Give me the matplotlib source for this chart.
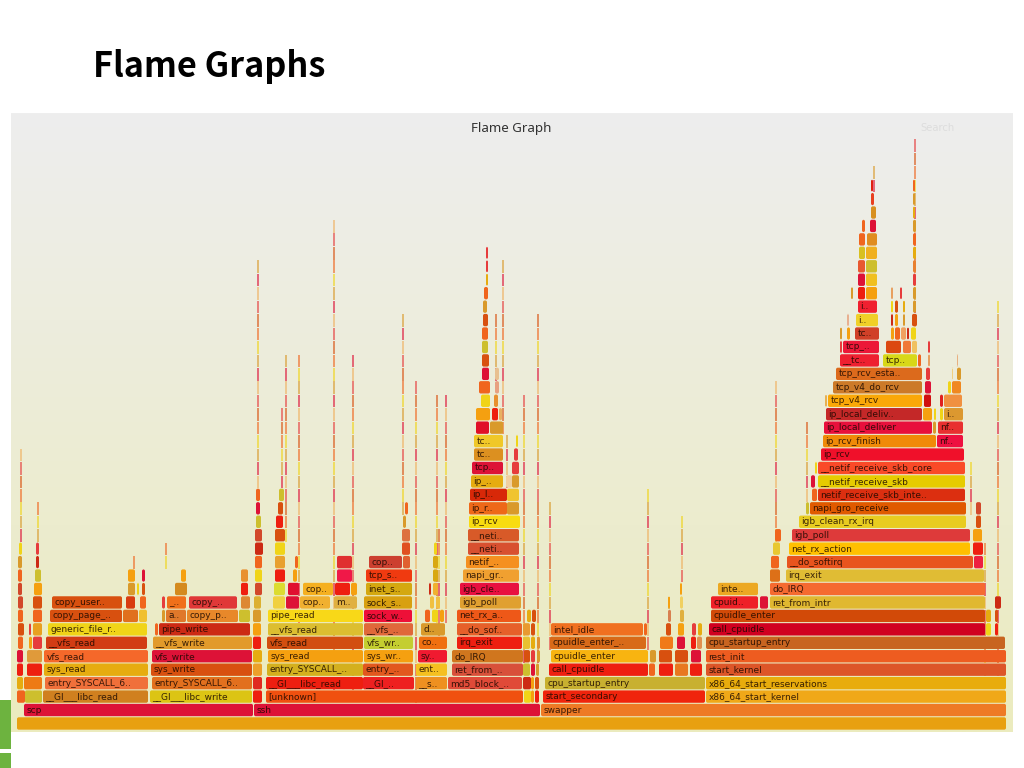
import matplotlib
matplotlib.use("Agg")
import matplotlib.pyplot as plt
from matplotlib.patches import FancyBboxPatch, Rectangle
from matplotlib.colors import LinearSegmentedColormap
import numpy as np

CRIMSON = "#DD1237"
RED     = "#EE1F10"
DRED    = "#CC2A14"
ORANGE  = "#F0651E"
DORG    = "#D8500F"
AMBER   = "#F5A010"
GOLD    = "#E6AC10"
TAN     = "#D99A2B"
YELLOW  = "#F0D418"
OLIVE   = "#CDBF2E"
BRICK   = "#D2482A"
ROSE    = "#E63C3C"

# frames: (stack depth, first sample, last sample, colour, label)
base_frames = [
    (0, 17, 1006, "#E8A010", ""),
    (1, 24, 253, CRIMSON, "scp"),
    (1, 254, 540, CRIMSON, "ssh"),
    (1, 541, 1006, "#EE7A25", "swapper"),
]

scp_frames = [
    (2, 17, 25, ORANGE, ""), (2, 25, 42, OLIVE, ""),
    (2, 43, 148, "#D0801F", "__GI___libc_read"),
    (3, 17, 23, GOLD, ""), (3, 24, 42, "#EE7A15", ""),
    (3, 45, 148, "#F0703A", "entry_SYSCALL_6.."),
    (4, 17, 23, RED, ""), (4, 27, 42, RED, ""),
    (4, 44, 148, GOLD, "sys_read"),
    (5, 17, 23, CRIMSON, ""), (5, 27, 42, "#E09A3A", ""),
    (5, 44, 148, "#F5682A", "vfs_read"),
    (6, 18, 23, ORANGE, ""), (6, 29, 32, AMBER, ""), (6, 33, 42, ROSE, ""),
    (6, 46, 147, "#D23C14", "__vfs_read"),
    (7, 18, 24, DORG, ""), (7, 29, 31, ROSE, ""), (7, 33, 42, "#E8A020", ""),
    (7, 48, 147, YELLOW, "generic_file_r.."),
    (8, 18, 23, ORANGE, ""), (8, 33, 42, ORANGE, ""),
    (8, 50, 122, DORG, "copy_page_.."), (8, 123, 138, "#E0701E", ""), (8, 139, 147, "#F0C030", ""),
    (9, 18, 23, BRICK, ""), (9, 33, 42, DORG, ""),
    (9, 52, 122, DORG, "copy_user.."), (9, 126, 135, "#D83C10", ""),
    (9, 140, 146, ORANGE, ""),
    (10, 18, 22, BRICK, ""), (10, 34, 42, AMBER, ""),
    (10, 128, 135, TAN, ""), (10, 137, 139, YELLOW, ""), (10, 142, 145, DORG, ""),
    (11, 18, 22, ORANGE, ""), (11, 35, 41, OLIVE, ""),
    (11, 128, 135, AMBER, ""), (11, 142, 145, CRIMSON, ""),
    (12, 18, 22, TAN, ""), (12, 36, 39, DRED, ""),
    (13, 19, 22, YELLOW, ""), (13, 36, 39, ROSE, ""),
]

write_frames = [
    (2, 150, 252, "#DCC414", "__GI___libc_write"),
    (3, 152, 252, "#E2701E", "entry_SYSCALL_6.."),
    (4, 151, 252, DORG, "sys_write"),
    (5, 152, 252, CRIMSON, "vfs_write"),
    (6, 153, 252, "#E29A2A", "__vfs_write"),
    (7, 155, 158, ORANGE, ""), (7, 159, 250, DRED, "pipe_write"),
    (8, 162, 165, TAN, ""), (8, 166, 186, "#E0782A", "a.."),
    (8, 187, 238, "#E8882A", "copy_p.."), (8, 239, 250, OLIVE, ""),
    (9, 162, 165, ROSE, ""), (9, 167, 186, "#F0701A", "_.."),
    (9, 189, 237, "#E03838", "copy_.."), (9, 241, 250, "#DD8833", ""),
    (10, 175, 187, "#D48A1E", ""), (10, 241, 248, RED, ""),
    (11, 181, 186, AMBER, ""), (11, 241, 248, "#E89030", ""),
]

ssh_frames = [
    (2, 253, 262, RED, ""), (2, 266, 523, "#F0500F", "[unknown]"),
    (2, 524, 531, YELLOW, ""), (2, 531, 534, AMBER, ""), (2, 535, 539, RED, ""),
    (3, 253, 262, "#E02A20", ""), (3, 266, 363, RED, "__GI___libc_read"),
    (3, 363, 414, "#EE2020", "__GI_.."), (3, 416, 447, "#EE9020", "__s.."),
    (3, 448, 522, "#E04A38", "md5_block_.."), (3, 523, 531, DRED, ""),
    (3, 531, 534, AMBER, ""), (3, 535, 539, DORG, ""),
    (4, 253, 262, "#ECA02A", ""), (4, 267, 363, "#D4B01E", "entry_SYSCALL_.."),
    (4, 363, 413, "#E2581E", "entry_.."), (4, 416, 447, "#F5C020", "ent.."),
    (4, 452, 523, "#D8503A", "ret_from_.."), (4, 523, 530, OLIVE, ""),
    (4, 531, 535, CRIMSON, ""), (4, 536, 539, TAN, ""),
    (5, 253, 262, GOLD, ""), (5, 268, 363, AMBER, "sys_read"),
    (5, 364, 413, AMBER, "sys_wr.."), (5, 418, 447, "#F01A30", "sy.."),
    (5, 452, 523, "#D0761E", "do_IRQ"), (5, 524, 530, DORG, ""),
    (5, 531, 535, ROSE, ""), (5, 537, 540, TAN, ""),
    (6, 253, 261, RED, ""), (6, 267, 363, "#D24E10", "vfs_read"),
    (6, 364, 413, "#C4CE30", "vfs_wr.."), (6, 419, 447, "#F07010", "co.."),
    (6, 457, 522, RED, "irq_exit"), (6, 523, 530, "#E8C030", ""),
    (6, 531, 535, GOLD, ""), (6, 537, 540, "#E09030", ""),
    (7, 253, 261, AMBER, ""), (7, 268, 363, "#DCBE30", "__vfs_read"),
    (7, 364, 413, "#E0683A", "__vfs_.."), (7, 421, 445, TAN, "d.."),
    (7, 457, 522, "#E6602A", "__do_sof.."), (7, 523, 530, "#E89A30", ""),
    (7, 531, 535, DORG, ""),
    (8, 253, 261, TAN, ""), (8, 268, 363, "#F8D818", "pipe_read"),
    (8, 364, 412, "#EE1038", "sock_w.."), (8, 425, 430, ORANGE, ""),
    (8, 432, 438, YELLOW, ""), (8, 440, 444, AMBER, ""),
    (8, 457, 521, "#EE5818", "net_rx_a.."), (8, 527, 531, GOLD, ""),
    (8, 532, 536, DORG, ""),
    (9, 254, 261, "#DCB030", ""), (9, 273, 285, "#F0D040", ""), (9, 286, 299, CRIMSON, ""),
    (9, 300, 330, "#F0B030", "cop.."), (9, 334, 357, "#E0B040", "m.."),
    (9, 364, 412, "#D8A010", "sock_s.."), (9, 430, 434, "#F0C040", ""),
    (9, 436, 440, "#F0C040", ""), (9, 460, 521, "#E0A030", "igb_poll"),
    (10, 255, 262, BRICK, ""), (10, 274, 285, "#DCDC30", ""), (10, 288, 299, "#E01030", ""),
    (10, 303, 333, "#F5B020", "cop.."), (10, 335, 350, RED, ""), (10, 351, 357, AMBER, ""),
    (10, 366, 412, "#D4A810", "inet_s.."), (10, 429, 431, DRED, ""),
    (10, 433, 438, "#F0B030", ""), (10, 460, 519, "#E81040", "igb_cle.."),
    (11, 255, 262, YELLOW, ""), (11, 275, 285, RED, ""), (11, 293, 297, AMBER, ""),
    (11, 337, 352, "#F01848", ""), (11, 366, 412, "#F03A10", "tcp_s.."),
    (11, 433, 438, "#D8A810", ""), (11, 463, 519, "#F0A030", "napi_gr.."),
    (12, 255, 262, ORANGE, ""), (12, 275, 285, "#E8A030", ""), (12, 295, 298, ORANGE, ""),
    (12, 337, 352, "#E03030", ""), (12, 369, 402, "#CC4030", "cop.."),
    (12, 403, 410, "#E06030", ""), (12, 433, 438, "#D8A810", ""),
    (12, 466, 519, "#F59020", "netif_.."),
    (13, 255, 263, DRED, ""), (13, 275, 285, YELLOW, ""), (13, 468, 519, "#D85030", "__neti.."),
    (13, 402, 410, "#E05020", ""), (13, 434, 437, YELLOW, ""),
    (14, 255, 262, BRICK, ""), (14, 275, 285, DORG, ""), (14, 468, 519, "#D85A28", "__neti.."),
    (14, 402, 410, "#DD7040", ""),
    (15, 256, 261, OLIVE, ""), (15, 276, 283, RED, ""), (15, 469, 520, "#F8DC10", "ip_rcv"),
    (15, 403, 406, TAN, ""),
    (16, 256, 260, CRIMSON, ""), (16, 278, 283, DORG, ""), (16, 469, 507, "#EE6818", "ip_r.."),
    (16, 507, 519, TAN, ""), (16, 405, 408, ORANGE, ""),
    (17, 256, 260, ORANGE, ""), (17, 279, 284, OLIVE, ""), (17, 470, 507, "#D82808", "ip_l.."),
    (17, 507, 519, "#F0C430", ""),
    (18, 471, 503, GOLD, "ip_.."), (18, 506, 512, "#F0D0A0", ""), (18, 512, 519, TAN, ""),
    (19, 472, 503, CRIMSON, "tcp.."), (19, 512, 519, ROSE, ""),
    (20, 474, 503, "#DC9020", "tc.."), (20, 514, 518, ROSE, ""),
    (21, 474, 503, "#F0C828", "tc.."), (21, 516, 518, YELLOW, ""),
    (22, 476, 489, "#E01028", ""), (22, 490, 503, TAN, ""),
    (23, 476, 490, AMBER, ""), (23, 492, 498, RED, ""), (23, 499, 502, "#E8B060", ""),
    (24, 481, 490, YELLOW, ""), (24, 494, 498, "#E89030", ""),
    (25, 479, 490, ORANGE, ""), (25, 495, 499, "#E8A080", ""),
    (26, 482, 489, CRIMSON, ""), (26, 495, 499, "#E8C090", ""),
    (27, 482, 489, DORG, ""), (28, 482, 488, OLIVE, ""), (29, 482, 488, ORANGE, ""),
    (30, 483, 488, DORG, ""), (31, 483, 487, TAN, ""), (32, 484, 488, ORANGE, ""),
    (33, 486, 488, GOLD, ""), (34, 486, 488, ROSE, ""), (35, 486, 488, ROSE, ""),
]

idle_frames = [
    (2, 543, 705, "#F0240C", "start_secondary"),
    (3, 545, 705, "#C8B030", "cpu_startup_entry"),
    (4, 549, 648, RED, "call_cpuidle"), (4, 649, 655, ORANGE, ""), (4, 659, 673, RED, ""),
    (4, 675, 688, "#E87820", ""), (4, 690, 702, RED, ""),
    (5, 551, 648, "#F8B410", "cpuidle_enter"), (5, 650, 656, TAN, ""), (5, 659, 672, DORG, ""),
    (5, 675, 688, DORG, ""), (5, 691, 701, CRIMSON, ""),
    (6, 550, 646, "#D86A18", "cpuidle_enter_.."), (6, 660, 673, "#F07A18", ""),
    (6, 677, 685, CRIMSON, ""), (6, 691, 696, RED, ""), (6, 697, 702, "#E09050", ""),
    (7, 551, 643, "#F07020", "intel_idle"), (7, 644, 647, ORANGE, ""), (7, 666, 671, DORG, ""),
    (7, 678, 684, AMBER, ""), (7, 692, 696, ROSE, ""), (7, 698, 702, GOLD, ""),
    (8, 668, 671, "#D88050", ""), (8, 680, 684, "#E0B040", ""),
    (9, 668, 670, AMBER, ""), (9, 680, 683, "#F0D060", ""), (10, 680, 682, AMBER, ""),
]

kernel_frames = [
    (2, 706, 1006, "#F0A818", "x86_64_start_kernel"),
    (3, 706, 1006, "#E8AC0C", "x86_64_start_reservations"),
    (4, 706, 1006, "#DD5528", "start_kernel"),
    (5, 706, 1006, "#EE5C20", "rest_init"),
    (6, 706, 1005, "#C86420", "cpu_startup_entry"),
    (7, 709, 985, "#D00020", "call_cpuidle"), (7, 986, 991, YELLOW, ""), (7, 995, 998, RED, ""),
    (8, 711, 985, "#D24A08", "cpuidle_enter"), (8, 986, 991, GOLD, ""), (8, 995, 998, DORG, ""),
    (9, 711, 758, "#EE2028", "cpuid.."), (9, 760, 768, CRIMSON, ""),
    (9, 770, 985, "#E0B830", "ret_from_intr"), (9, 995, 1001, DRED, ""),
    (10, 718, 758, "#ECA822", "inte.."), (10, 770, 985, "#F56A30", "do_IRQ"),
    (11, 770, 780, "#DD7018", ""), (11, 786, 984, "#E0BC34", "irq_exit"),
    (12, 771, 779, ORANGE, ""), (12, 787, 973, "#E8541E", "__do_softirq"), (12, 974, 983, "#EE2040", ""),
    (13, 773, 780, "#E8C830", ""), (13, 789, 970, "#FFC000", "net_rx_action"), (13, 973, 983, RED, ""),
    (14, 775, 781, ORANGE, ""), (14, 792, 970, "#DE3A3A", "igb_poll"), (14, 973, 982, AMBER, ""),
    (15, 799, 966, "#E8CC20", "igb_clean_rx_irq"), (15, 976, 981, DORG, ""),
    (16, 806, 809, OLIVE, ""), (16, 810, 966, "#E05A00", "napi_gro_receive"), (16, 976, 981, BRICK, ""),
    (17, 812, 817, ORANGE, ""), (17, 818, 965, "#DC2F10", "netif_receive_skb_inte.."),
    (18, 811, 815, CRIMSON, ""), (18, 818, 965, "#E6CC00", "__netif_receive_skb"),
    (19, 815, 817, YELLOW, ""), (19, 818, 965, "#FA4A28", "__netif_receive_skb_core"),
    (20, 821, 964, "#F0102A", "ip_rcv"),
    (21, 823, 936, "#F08A08", "ip_rcv_finish"), (21, 937, 963, "#EE1040", "nf.."),
    (22, 824, 932, "#E8103C", "ip_local_deliver"), (22, 933, 936, TAN, ""),
    (22, 938, 963, "#E83030", "nf.."),
    (23, 826, 922, "#C42828", "ip_local_deliv.."), (23, 923, 932, AMBER, ""), (23, 934, 936, YELLOW, ""),
    (23, 940, 943, YELLOW, ""), (23, 944, 963, "#DC9830", "i.."),
    (24, 825, 827, "#E8B050", ""), (24, 828, 922, "#FAA808", "tcp_v4_rcv"), (24, 924, 931, "#D01010", ""),
    (24, 940, 943, "#E02020", ""), (24, 944, 962, "#F09040", ""),
    (25, 833, 922, "#CC7A28", "tcp_v4_do_rcv"), (25, 925, 931, CRIMSON, ""),
    (25, 948, 951, YELLOW, ""), (25, 952, 961, "#F08820", ""),
    (26, 836, 922, "#DC6A1C", "tcp_rcv_esta.."), (26, 926, 930, ROSE, ""),
    (26, 952, 953, "#F0D080", ""), (26, 957, 961, TAN, ""),
    (27, 840, 879, "#EE2030", "__tc.."), (27, 883, 917, "#D8D818", "tcp.."),
    (27, 918, 921, ORANGE, ""), (27, 928, 930, "#E8A060", ""), (27, 957, 958, "#E8B080", ""),
    (28, 840, 842, ROSE, ""), (28, 843, 879, "#EC1838", "tcp_.."), (28, 886, 901, "#DC4810", ""),
    (28, 903, 911, "#F07838", ""), (28, 912, 917, "#F0C060", ""), (28, 928, 930, ROSE, ""),
    (29, 840, 842, TAN, ""), (29, 847, 850, AMBER, ""), (29, 855, 879, "#D04028", "tc.."),
    (29, 891, 894, AMBER, ""), (29, 895, 900, ORANGE, ""), (29, 901, 906, "#F0A060", ""),
    (29, 907, 909, DRED, ""), (29, 911, 916, YELLOW, ""),
    (30, 847, 849, "#E8B090", ""), (30, 856, 878, "#F0D028", "i.."),
    (30, 891, 893, DRED, ""), (30, 895, 898, AMBER, ""), (30, 903, 905, TAN, ""),
    (30, 912, 917, DORG, ""),
    (31, 858, 877, "#F02030", "i.."), (31, 891, 893, YELLOW, ""), (31, 895, 898, DORG, ""),
    (31, 903, 905, GOLD, ""), (31, 913, 916, TAN, ""),
    (32, 851, 853, TAN, ""), (32, 858, 865, RED, ""), (32, 866, 877, AMBER, ""),
    (32, 891, 893, "#E8A060", ""), (32, 900, 902, ROSE, ""), (32, 913, 916, TAN, ""),
    (33, 858, 865, CRIMSON, ""), (33, 866, 877, "#F0C020", ""), (33, 913, 916, ROSE, ""),
    (34, 858, 865, "#E85830", ""), (34, 866, 877, OLIVE, ""), (34, 913, 916, "#E88030", ""),
    (35, 859, 865, "#D8C020", ""), (35, 866, 877, "#F0B020", ""), (35, 913, 916, GOLD, ""),
    (36, 859, 865, ORANGE, ""), (36, 867, 877, "#E08C20", ""), (36, 913, 916, ORANGE, ""),
    (37, 862, 865, ORANGE, ""), (37, 870, 876, CRIMSON, ""), (37, 913, 916, TAN, ""),
    (38, 871, 876, "#D89020", ""), (38, 913, 915, GOLD, ""),
    (39, 871, 874, "#E84020", ""), (39, 913, 915, TAN, ""),
    (40, 871, 873, "#E02010", ""), (40, 913, 915, ORANGE, ""),
]

# thin columns of frames: sample, lowest depth, highest depth
spike_x   = [20, 37, 133, 165, 257, 281, 285, 298, 333, 352, 402, 415,
             436, 438, 445, 502, 495, 506, 523, 537, 549, 647, 668, 681,
             775, 806, 873, 914, 970, 984, 997]
spike_lo  = [14, 14, 12, 12, 18, 18, 14, 8, 3, 3, 16, 2,
             8, 7, 8, 22, 26, 18, 5, 4, 6, 6, 9, 11,
             14, 17, 40, 30, 16, 4, 4]
spike_hi  = [21, 17, 13, 14, 35, 24, 28, 28, 38, 28, 31, 26,
             25, 15, 25, 35, 31, 22, 25, 31, 17, 18, 10, 16,
             26, 23, 42, 44, 20, 14, 32]

all_frames = base_frames + scp_frames + write_frames + ssh_frames + idle_frames + kernel_frames

ROW_H = 13.45   # pixels per stack level

fig = plt.figure(figsize=(10.24, 7.68), dpi=100, facecolor="white")

# panel with the grey-to-yellow background, x in samples and y in stack depth
ax = fig.add_axes([11 / 1024, 1 - 732 / 768, 1002 / 1024, 619 / 768])
grad = LinearSegmentedColormap.from_list("bg", ["#eeeeee", "#ebebbe"])
ax.imshow(np.linspace(0, 1, 256).reshape(-1, 1), aspect="auto", cmap=grad,
          extent=(11, 1013, -0.134, 45.9), zorder=0)
ax.set_xlim(11, 1013)
ax.set_ylim(-0.134, 45.9)
ax.axis("off")

# ── spikes ───────────────────────────────────────────────────────────────────
spike_cols = [ROSE, ORANGE, TAN, "#F0B060", DORG, YELLOW, CRIMSON]
for x, lo, hi in zip(spike_x, spike_lo, spike_hi):
    for row in range(lo, hi):
        c = spike_cols[(row * 3 + x) % len(spike_cols)]
        ax.add_patch(Rectangle((x, row), 1.8, 0.94, fc=c, ec="none", alpha=0.6, zorder=1))

# ── frames ───────────────────────────────────────────────────────────────────
for row, x0, x1, col, label in all_frames:
    ax.add_patch(FancyBboxPatch((x0, row + 0.04), x1 - x0, 0.92,
                                boxstyle="round,pad=0,rounding_size=1.8",
                                mutation_aspect=1 / ROW_H,
                                fc=col, ec="none", zorder=2))
    if label:
        ax.text(x0 + 2.5, row + 0.5, label, fontsize=6.45, color="#1a0800", alpha=0.85,
                va="center", ha="left", zorder=3, family="DejaVu Sans")

ax.text(511, 44.75, "Flame Graph", fontsize=9.6, color="#333333", ha="center", va="center",
        family="Noto Sans")
ax.text(938, 44.75, "Search", fontsize=7.2, color="#dddddd", ha="center", va="center")

# slide title and the green tab on the left edge
fig.text(93 / 1024, 1 - 77 / 768, "Flame Graphs", fontsize=24.7, fontweight="bold",
         family="Noto Sans CJK JP", color="#000000")
fig.add_artist(Rectangle((0, 1 - 749 / 768), 11 / 1024, 49 / 768, fc="#6DB33F", ec="none",
                         transform=fig.transFigure))
fig.add_artist(Rectangle((0, 0), 11 / 1024, 15 / 768, fc="#6DB33F", ec="none",
                         transform=fig.transFigure))

fig.savefig("out.png", dpi=100)
